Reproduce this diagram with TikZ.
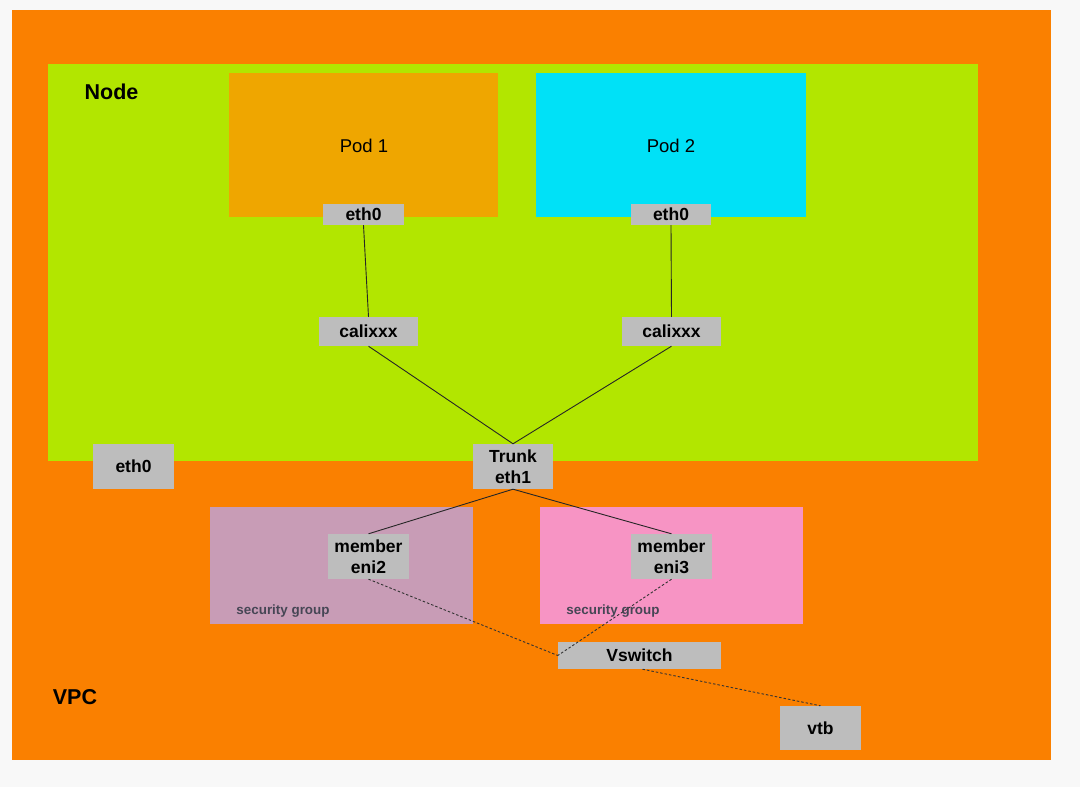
\documentclass[tikz,border=0pt]{standalone}
\usepackage{fontspec}
\setmainfont{Liberation Sans}
\begin{document}
\begin{tikzpicture}[x=1pt,y=-1pt,
  box/.style={fill=boxgray, draw=none, inner sep=0pt, font=\bfseries\fontsize{17.5}{21}\selectfont, align=center},
  area/.style={draw=none, inner sep=0pt},
  link/.style={draw=black!85, line width=0.9pt},
  dlink/.style={draw=black!80, line width=0.9pt, dash pattern=on 2.5pt off 2pt},
  sglabel/.style={font=\bfseries\fontsize{13.4}{15}\selectfont, text=sgtext, inner sep=0pt},
  biglabel/.style={font=\bfseries\fontsize{21.5}{24}\selectfont, inner sep=0pt},
  podlabel/.style={font=\fontsize{18.5}{22}\selectfont, inner sep=0pt}
]
\definecolor{bg}{RGB}{248,248,248}
\definecolor{vpc}{RGB}{250,128,0}
\definecolor{nodegreen}{RGB}{178,230,0}
\definecolor{pod1}{RGB}{239,166,0}
\definecolor{pod2}{RGB}{0,225,247}
\definecolor{boxgray}{RGB}{189,189,189}
\definecolor{sg1}{RGB}{200,156,182}
\definecolor{sg2}{RGB}{247,148,196}
\definecolor{sgtext}{RGB}{70,70,85}
\useasboundingbox (0,0) rectangle (1080,787);
\fill[bg] (0,0) rectangle (1080,787);
% areas
\fill[vpc] (12,10) rectangle (1051,760);
\fill[nodegreen] (48,64) rectangle (978,461);
\fill[pod1] (229,73) rectangle (498,217);
\fill[pod2] (536,73) rectangle (806,217);
\fill[sg1] (210,507) rectangle (473,624);
\fill[sg2] (540,507) rectangle (803,624);
% labels
\node[biglabel] (nodelbl) at (111.5,92) {Node};
\node[biglabel] (vpclbl) at (75,697) {VPC};
\node[podlabel] (pod1lbl) at (364,146) {Pod 1};
\node[podlabel] (pod2lbl) at (671,146) {Pod 2};
\node[sglabel] (sg1lbl) at (283,611) {security group};
\node[sglabel] (sg2lbl) at (613,611) {security group};
% boxes
\node[box, minimum width=81pt, minimum height=21pt] (eth0a) at (363.5,214.5) {eth0};
\node[box, minimum width=80pt, minimum height=21pt] (eth0b) at (671,214.5) {eth0};
\node[box, minimum width=99pt, minimum height=29pt] (calia) at (368.5,331.5) {calixxx};
\node[box, minimum width=99pt, minimum height=29pt] (calib) at (671.5,331.5) {calixxx};
\node[box, minimum width=80pt, minimum height=45pt] (trunk) at (513,466.5) {Trunk\\eth1};
\node[box, minimum width=81pt, minimum height=45pt] (eth0c) at (133.5,466.5) {eth0};
\node[box, minimum width=81pt, minimum height=45pt] (eni2) at (368.5,556.5) {member\\eni2};
\node[box, minimum width=81pt, minimum height=45pt] (eni3) at (671.5,556.5) {member\\eni3};
\node[box, minimum width=163pt, minimum height=27pt] (vsw) at (639.5,655.5) {Vswitch};
\node[box, minimum width=81pt, minimum height=44pt] (vtb) at (820.5,728) {vtb};
% connectors
\draw[link] (eth0a.south) -- (calia.north);
\draw[link] (eth0b.south) -- (calib.north);
\draw[link] (calia.south) -- (trunk.north);
\draw[link] (calib.south) -- (trunk.north);
\draw[link] (trunk.south) -- (eni2.north);
\draw[link] (trunk.south) -- (eni3.north);
\draw[dlink] (eni2.south) -- (vsw.west);
\draw[dlink] (eni3.south) -- (vsw.west);
\draw[dlink] ([xshift=3pt]vsw.south) -- (vtb.north);
\end{tikzpicture}
\end{document}
